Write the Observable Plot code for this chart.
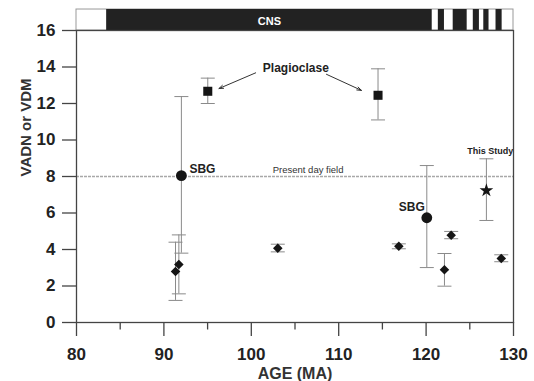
<!DOCTYPE html>
<html>
<head>
<meta charset="utf-8">
<script src="https://cdn.jsdelivr.net/npm/d3@7"></script>
<script src="https://cdn.jsdelivr.net/npm/@observablehq/plot@0.6"></script>
<style>
  html, body { margin: 0; padding: 0; background: #fff; }
  #chart svg { display: block; font-family: "Liberation Sans", Arial, sans-serif; }
</style>
</head>
<body>
<div id="chart"></div>
<script>
// ---- data ----
const diamondAge = [91.33, 91.71, 103.03, 116.88, 122.1, 122.87, 128.6];
const diamondVal = [2.79, 3.18, 4.07, 4.18, 2.89, 4.78, 3.51];
const diamondLo  = [1.21, 1.57, 3.87, 4.04, 1.99, 4.59, 3.33];
const diamondHi  = [4.40, 4.80, 4.29, 4.31, 3.78, 4.99, 3.71];

const sbgAge = [92.0, 120.08];
const sbgVal = [8.05, 5.74];
const sbgLo  = [3.80, 3.01];
const sbgHi  = [12.38, 8.60];

const plagAge = [95.02, 114.5];
const plagVal = [12.67, 12.45];
const plagLo  = [12.0, 11.1];
const plagHi  = [13.39, 13.9];

const studyAge = [126.9];
const studyVal = [7.23];
const studyLo  = [5.59];
const studyHi  = [8.97];

const presentDayField = 8;

// polarity chron bar (black = normal polarity intervals, Ma)
const chronStart = [83.45, 121.4, 123.1, 125.4, 126.6, 128.0];
const chronEnd   = [120.7, 122.1, 124.7, 126.1, 127.2, 128.7];
const chronLabel = "CNS";

// annotation arrows (from label toward the plagioclase points)
const arrowFromAge = [100.5, 108.6];
const arrowFromVal = [13.68, 13.6];
const arrowToAge   = [96.3, 112.6];
const arrowToVal   = [12.82, 12.72];

const xMajorTicks = [80, 90, 100, 110, 120, 130];
const xMinorTicks = [85, 95, 105, 115, 125];
const yTicks = [0, 2, 4, 6, 8, 10, 12, 14, 16];

// ---- build tables ----
const zip = (a, v, lo, hi) => a.map((x, i) => ({age: x, val: v[i], lo: lo[i], hi: hi[i]}));
const diamonds = zip(diamondAge, diamondVal, diamondLo, diamondHi);
const sbg = zip(sbgAge, sbgVal, sbgLo, sbgHi);
const plag = zip(plagAge, plagVal, plagLo, plagHi);
const study = zip(studyAge, studyVal, studyLo, studyHi);
const all = [...diamonds, ...sbg, ...plag, ...study];
const chrons = chronStart.map((s, i) => ({s, e: chronEnd[i]}));
const arrows = arrowFromAge.map((a, i) => ({x1: a, y1: arrowFromVal[i], x2: arrowToAge[i], y2: arrowToVal[i]}));

const capSymbol = {
  draw(ctx, size) {
    const r = Math.sqrt(size / Math.PI);
    ctx.moveTo(-r, 0); ctx.lineTo(r, 0);
  }
};

const X0 = 80, X1 = 130, Y0 = 0, Y1 = 16, BAR_TOP = 17.15;
const font = "Liberation Sans, Arial, sans-serif";
const axisColor = "#444";
const errColor = "#8a8a8a";
const markColor = "#151515";

const chart = Plot.plot({
  width: 534,
  height: 381,
  marginLeft: 76,
  marginRight: 21,
  marginTop: 30,
  marginBottom: 59,
  style: {fontFamily: font, background: "#fff", overflow: "visible"},
  x: {domain: [X0, X1]},
  y: {domain: [Y0, Y1]},
  marks: [
    // chron bar
    Plot.rect([0], {x1: X0, x2: X1, y1: Y1, y2: BAR_TOP, fill: "#fff", stroke: "#999", strokeWidth: 1}),
    Plot.rect(chrons, {x1: "s", x2: "e", y1: Y1, y2: BAR_TOP, fill: "#222"}),
    Plot.text([chronLabel], {x: (chronStart[0] + chronEnd[0]) / 2, y: (Y1 + BAR_TOP) / 2, text: d => d, fill: "#fff", fontWeight: "bold", fontSize: 11, dy: 1}),
    // present-day field
    Plot.ruleY([presentDayField], {stroke: "#a8a8a8", strokeWidth: 1.5, strokeDasharray: "3,1"}),
    Plot.text(["Present day field"], {x: 106.5, y: presentDayField, text: d => d, fontSize: 9.5, fill: "#333", lineAnchor: "bottom", dy: -3.5}),
    // error bars
    Plot.ruleX(all, {x: "age", y1: "lo", y2: "hi", stroke: errColor, strokeWidth: 1}),
    Plot.dot(all, {x: "age", y: "lo", symbol: capSymbol, r: 7, stroke: errColor, fill: "none", strokeWidth: 1}),
    Plot.dot(all, {x: "age", y: "hi", symbol: capSymbol, r: 7, stroke: errColor, fill: "none", strokeWidth: 1}),
    // markers
    Plot.dot(diamonds, {x: "age", y: "val", symbol: "diamond2", r: 4.3, fill: markColor, stroke: "none"}),
    Plot.dot(sbg, {x: "age", y: "val", symbol: "circle", r: 5.4, fill: markColor, stroke: "none"}),
    Plot.dot(plag, {x: "age", y: "val", symbol: "square", r: 5.1, fill: markColor, stroke: "none"}),
    Plot.dot(study, {x: "age", y: "val", symbol: "star", r: 4.3, fill: markColor, stroke: "none"}),
    // arrows
    Plot.arrow(arrows, {x1: "x1", y1: "y1", x2: "x2", y2: "y2", stroke: "#333", strokeWidth: 1, headLength: 7, headAngle: 40}),
    // labels
    Plot.text(["Plagioclase"], {x: 105.1, y: 13.7, text: d => d, fontWeight: "bold", fontSize: 12, fill: "#222", lineAnchor: "bottom", dy: 0}),
    Plot.text(["SBG"], {x: sbgAge[0], y: sbgVal[0], text: d => d, fontWeight: "bold", fontSize: 12, fill: "#222", textAnchor: "start", lineAnchor: "bottom", dx: 8, dy: -3}),
    Plot.text(["SBG"], {x: sbgAge[1], y: sbgVal[1], text: d => d, fontWeight: "bold", fontSize: 12, fill: "#222", textAnchor: "end", lineAnchor: "bottom", dx: -2, dy: -7}),
    Plot.text(["This Study"], {x: 127.35, y: studyHi[0], text: d => d, fontWeight: "bold", fontSize: 9, fill: "#222", lineAnchor: "bottom", dy: -5}),
    // frame & axes
    Plot.frame({stroke: axisColor, strokeWidth: 1.3}),
    Plot.axisX({ticks: xMajorTicks, tickSize: 14, tickPadding: 11, tickFormat: d => d, fontSize: 17, fontWeight: "bold", fill: "#222", stroke: axisColor, strokeWidth: 1.3, label: null}),
    Plot.axisX({ticks: xMinorTicks, tickSize: 7.5, tickFormat: () => "", stroke: axisColor, strokeWidth: 1.3, label: null}),
    Plot.axisY({ticks: yTicks, tickSize: 14, tickPadding: 7, tickFormat: d => d, fontSize: 17, fontWeight: "bold", fill: "#222", stroke: axisColor, strokeWidth: 1.3, label: null}),
    Plot.text(["AGE (MA)"], {frameAnchor: "bottom", text: d => d, fontSize: 16, fontWeight: "bold", fill: "#333", lineAnchor: "bottom", dy: 56}),
    Plot.text(["VADN or VDM"], {frameAnchor: "left", text: d => d, fontSize: 15, fontWeight: "bold", fill: "#333", rotate: -90, dx: -50})
  ]
});
document.getElementById("chart").appendChild(chart);
</script>
</body>
</html>
